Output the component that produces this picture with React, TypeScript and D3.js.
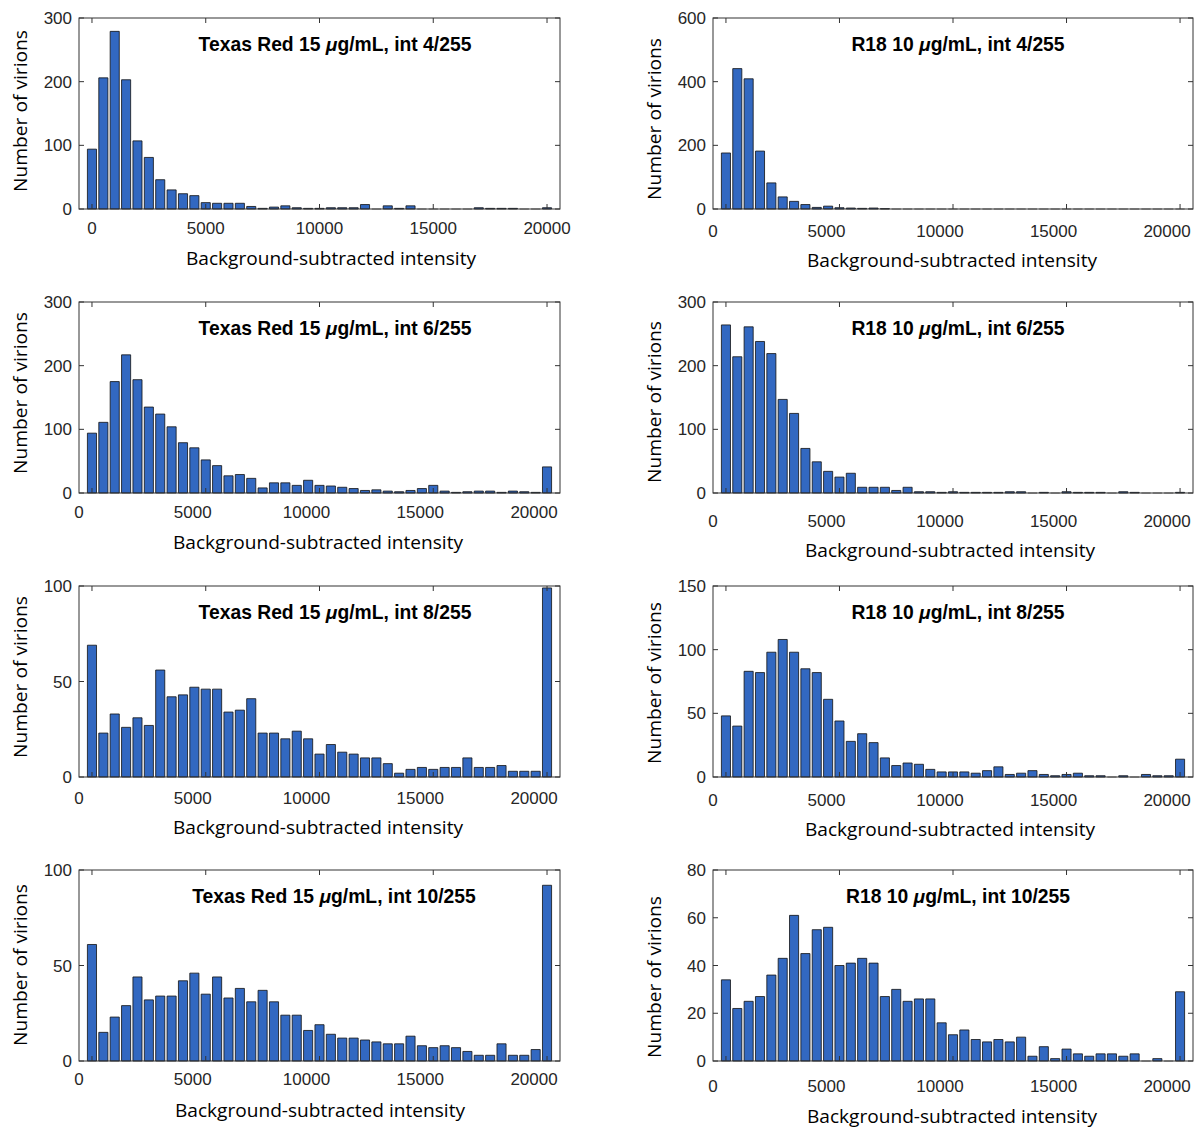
import React from "react";
import * as d3 from "d3";

// bin centres shared by every histogram (intensity units)
const binCenters = d3.range(0, 20001, 500);
const xTicks = [0, 5000, 10000, 15000, 20000];

// counts per bin
const texas4 = [94, 206, 279, 203, 107, 81, 46, 30, 24, 21, 10, 9, 9, 9, 4, 1, 3, 5, 2, 1, 1, 2, 2, 2, 7, 0, 5, 1, 5, 0, 0, 0, 0, 0, 2, 1, 1, 1, 0, 0, 2];
const texas6 = [94, 111, 175, 217, 178, 135, 124, 104, 79, 71, 52, 43, 27, 29, 23, 8, 16, 16, 12, 20, 12, 11, 9, 7, 4, 5, 3, 2, 4, 7, 12, 3, 1, 2, 3, 3, 1, 3, 2, 1, 41];
const texas8 = [69, 23, 33, 26, 31, 27, 56, 42, 43, 47, 46, 46, 34, 35, 41, 23, 23, 20, 24, 20, 12, 17, 13, 12, 10, 10, 7, 2, 4, 5, 4, 5, 5, 10, 5, 5, 6, 3, 3, 3, 99];
const texas10 = [61, 15, 23, 29, 44, 32, 34, 34, 42, 46, 35, 44, 33, 38, 31, 37, 31, 24, 24, 16, 19, 14, 12, 12, 11, 10, 9, 9, 13, 8, 7, 8, 7, 5, 3, 3, 9, 3, 3, 6, 92];
const r18_4 = [176, 441, 409, 182, 82, 38, 24, 14, 5, 9, 4, 3, 2, 3, 1, 0, 0, 0, 0, 0, 0, 0, 0, 0, 0, 0, 0, 0, 0, 0, 0, 0, 0, 0, 0, 0, 0, 0, 0, 0, 0];
const r18_6 = [264, 214, 261, 238, 219, 147, 125, 70, 49, 34, 25, 31, 9, 9, 9, 4, 9, 2, 2, 1, 2, 1, 1, 1, 1, 2, 2, 0, 1, 0, 2, 1, 1, 1, 0, 2, 1, 0, 0, 0, 1];
const r18_8 = [48, 40, 83, 82, 98, 108, 98, 85, 82, 61, 44, 28, 34, 27, 15, 9, 11, 10, 6, 4, 4, 4, 3, 5, 8, 2, 3, 5, 2, 1, 2, 3, 1, 1, 0, 1, 0, 2, 1, 1, 14];
const r18_10 = [34, 22, 25, 27, 36, 43, 61, 45, 55, 56, 40, 41, 43, 41, 27, 30, 25, 26, 26, 16, 11, 13, 9, 8, 9, 8, 10, 2, 6, 1, 5, 3, 2, 3, 3, 2, 3, 0, 1, 0, 29];

const panels = [
  { dye: "Texas Red 15 ", rest: "g/mL, int 4/255", counts: texas4, yMax: 300, yTicks: [0, 100, 200, 300], col: 0, row: 0, shift: 0, tickDy: 19, xl: [331, 259], yl: 111, tx: 335 },
  { dye: "Texas Red 15 ", rest: "g/mL, int 6/255", counts: texas6, yMax: 300, yTicks: [0, 100, 200, 300], col: 0, row: 1, shift: -13, tickDy: 19, xl: [318, 543], yl: 393, tx: 335 },
  { dye: "Texas Red 15 ", rest: "g/mL, int 8/255", counts: texas8, yMax: 100, yTicks: [0, 50, 100], col: 0, row: 2, shift: -13, tickDy: 21, xl: [318, 828], yl: 677, tx: 335 },
  { dye: "Texas Red 15 ", rest: "g/mL, int 10/255", counts: texas10, yMax: 100, yTicks: [0, 50, 100], col: 0, row: 3, shift: -13, tickDy: 18, xl: [320, 1111], yl: 965, tx: 334 },
  { dye: "R18 10 ", rest: "g/mL, int 4/255", counts: r18_4, yMax: 600, yTicks: [0, 200, 400, 600], col: 1, row: 0, shift: -13, tickDy: 22, xl: [952, 261], yl: 119, tx: 958 },
  { dye: "R18 10 ", rest: "g/mL, int 6/255", counts: r18_6, yMax: 300, yTicks: [0, 100, 200, 300], col: 1, row: 1, shift: -13, tickDy: 28, xl: [950, 551], yl: 402, tx: 958 },
  { dye: "R18 10 ", rest: "g/mL, int 8/255", counts: r18_8, yMax: 150, yTicks: [0, 50, 100, 150], col: 1, row: 2, shift: -13, tickDy: 23, xl: [950, 830], yl: 683, tx: 958 },
  { dye: "R18 10 ", rest: "g/mL, int 10/255", counts: r18_10, yMax: 80, yTicks: [0, 20, 40, 60, 80], col: 1, row: 3, shift: -13, tickDy: 25, xl: [952, 1117], yl: 977, tx: 958 },
];

const colX = [79, 713];
const colW = [481, 480];
const rowTop = [18, 302, 586, 870];
const plotH = 191;
const tickLen = 5;
const axisColor = "#333333";
const barColor = "#3268c1";

function Histogram({ p }) {
  const left = colX[p.col];
  const top = rowTop[p.row];
  const w = colW[p.col];
  const bottom = top + plotH;

  const x = d3.scaleLinear().domain([-570, 20570]).range([left, left + w]);
  const y = d3.scaleLinear().domain([0, p.yMax]).range([bottom, top]);
  const barW = x(400) - x(0);

  return (
    <g>
      {p.counts.map((c, i) => {
        const cx = x(binCenters[i]);
        const path = d3.path();
        path.rect(cx - barW / 2, y(c), barW, y(0) - y(c));
        return (
          <path key={i} d={path.toString()} fill={barColor}
            stroke={c === 0 ? "#888" : "#111"} strokeWidth={0.8} />
        );
      })}

      <rect x={left} y={top} width={w} height={plotH} fill="none" stroke={axisColor} strokeWidth={1} />

      {xTicks.map((t) => (
        <g key={t}>
          <line x1={x(t)} x2={x(t)} y1={bottom} y2={bottom - tickLen} stroke={axisColor} />
          <line x1={x(t)} x2={x(t)} y1={top} y2={top + tickLen} stroke={axisColor} />
          <text x={t === 0 && p.shift !== 0 ? left : x(t) + p.shift} y={bottom + p.tickDy + 6}
            textAnchor="middle" fontSize={17} fill="#262626"
            fontFamily="'Liberation Sans', Arial, sans-serif">{t}</text>
        </g>
      ))}

      {p.yTicks.map((t) => (
        <g key={t}>
          <line x1={left} x2={left + tickLen} y1={y(t)} y2={y(t)} stroke={axisColor} />
          <line x1={left + w} x2={left + w - tickLen} y1={y(t)} y2={y(t)} stroke={axisColor} />
          <text x={left - 7} y={y(t) + 6} textAnchor="end" fontSize={17} fill="#262626"
            fontFamily="'Liberation Sans', Arial, sans-serif">{t}</text>
        </g>
      ))}

      <text x={p.tx} y={top + 33} textAnchor="middle" fontSize={19.3} fontWeight="bold"
        fontFamily="'Liberation Sans', Arial, sans-serif" fill="#000">
        <tspan>{p.dye}</tspan>
        <tspan fontStyle="italic">μ</tspan>
        <tspan>{p.rest}</tspan>
      </text>

      <text x={p.xl[0]} y={p.xl[1] + 6} textAnchor="middle" fontSize={19}
        fontFamily="'Open Sans', sans-serif" fill="#000"
        textLength={290} lengthAdjust="spacingAndGlyphs">Background-subtracted intensity</text>

      <text transform={`translate(${left - 52}, ${p.yl}) rotate(-90)`} textAnchor="middle" fontSize={19}
        fontFamily="'Open Sans', sans-serif" fill="#000"
        textLength={162} lengthAdjust="spacingAndGlyphs">Number of virions</text>
    </g>
  );
}

export default function App() {
  return (
    <svg width={1196} height={1128} style={{ position: "absolute", left: 0, top: 0, background: "#fff" }}>
      <rect width={1196} height={1128} fill="#fff" />
      {panels.map((p, i) => <Histogram key={i} p={p} />)}
    </svg>
  );
}
